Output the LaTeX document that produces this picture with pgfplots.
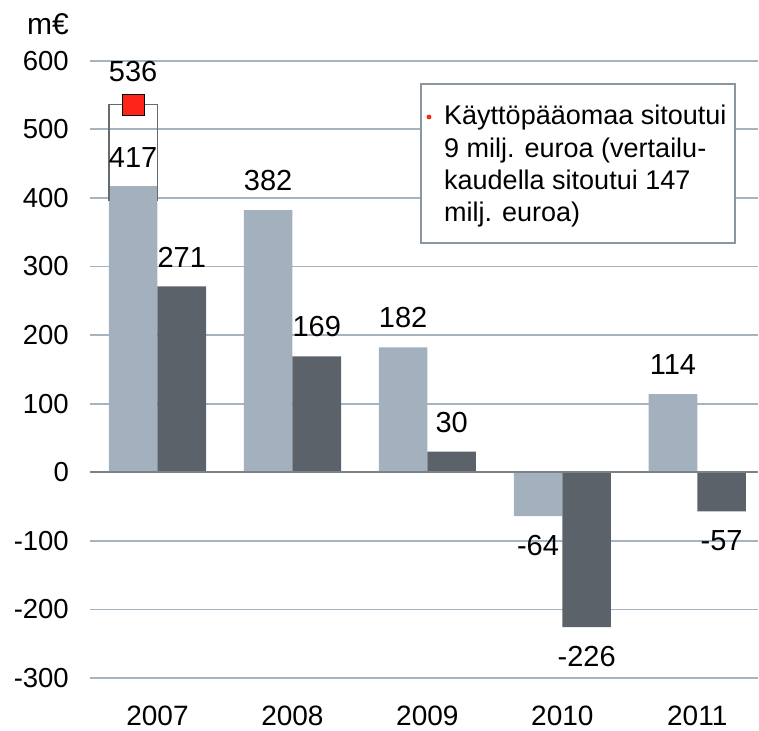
\documentclass[border=0pt]{standalone}
\usepackage{fontspec}
\setmainfont{Liberation Sans}
\usepackage{pgfplots}
\pgfplotsset{compat=1.18}
\definecolor{lightbar}{RGB}{163,176,189}
\definecolor{darkbar}{RGB}{91,98,106}
\definecolor{gridc}{RGB}{166,180,194}
\definecolor{zeroc}{RGB}{125,130,136}
\definecolor{redsq}{RGB}{255,36,24}
\definecolor{boxc}{RGB}{140,150,160}
\definecolor{outc}{RGB}{100,106,112}
\begin{document}
\begin{tikzpicture}
\useasboundingbox (-90pt,-52.7pt) rectangle (669pt,678pt);
\begin{axis}[
  at={(0pt,0pt)}, anchor=south west,
  scale only axis, width=668pt, height=617.3pt,
  xmin=-0.5, xmax=4.45, ymin=-300, ymax=600,
  axis line style={draw=none},
  ytick={-300,-200,...,600},
  xtick={0,1,2,3,4},
  xticklabels={2007,2008,2009,2010,2011},
  major tick length=0pt,
  ymajorgrids, grid style={gridc, line width=1.8pt},
  /pgf/number format/assume math mode=true,
  /pgf/number format/1000 sep={},
  yticklabel style={font=\fontsize{27.5}{30}\selectfont, inner xsep=0pt, xshift=-21pt},
  xticklabel style={font=\fontsize{28}{32}\selectfont, inner ysep=0pt, yshift=-28pt},
  every node near coord/.append style={font=\fontsize{29}{32}\selectfont, inner ysep=19pt, inner xsep=0pt, text=black},
  clip=false,
]
\addplot[ybar, bar width=0.36, bar shift=0, fill=lightbar, draw=none,
  nodes near coords, nodes near coords align={vertical}]
  coordinates {(-0.18,417) (0.82,382) (1.82,182) (2.82,-64) (3.82,114)};
\addplot[ybar, bar width=0.36, bar shift=0, fill=darkbar, draw=none,
  nodes near coords, nodes near coords align={vertical}]
  coordinates {(0.18,271) (1.18,169) (2.18,30) (3.18,-226) (4.18,-57)};
\addplot[sharp plot, no marks, outc, line width=1.3pt]
  coordinates {(-0.36,395) (-0.36,536) (0.0,536) (0.0,395)};
\draw[zeroc, line width=1.8pt] (axis cs:-0.5,0) -- (axis cs:4.45,0);
\addplot[only marks, mark=square*, mark size=10.7pt, mark options={fill=redsq, draw=none},
  nodes near coords, nodes near coords align={vertical},
  every node near coord/.append style={inner ysep=23pt}]
  coordinates {(-0.18,536)};
\end{axis}
\node[anchor=base east, inner sep=0pt, font=\fontsize{30}{34}\selectfont] at (-21pt,643pt) {m€};
\draw[boxc, line width=1.5pt, fill=white] (331pt,435pt) rectangle (645pt,594pt);
\fill[redsq] (339pt,561pt) circle (2.4pt);
\node[anchor=base west, inner sep=0pt, font=\fontsize{27}{32}\selectfont] at (354pt,553pt) {Käyttöpääomaa sitoutui};
\node[anchor=base west, inner sep=0pt, font=\fontsize{27}{32}\selectfont] at (354pt,520pt) {9 milj. euroa (vertailu-};
\node[anchor=base west, inner sep=0pt, font=\fontsize{27}{32}\selectfont] at (354pt,488pt) {kaudella sitoutui 147};
\node[anchor=base west, inner sep=0pt, font=\fontsize{27}{32}\selectfont] at (354pt,456pt) {milj. euroa)};
\end{tikzpicture}
\end{document}
